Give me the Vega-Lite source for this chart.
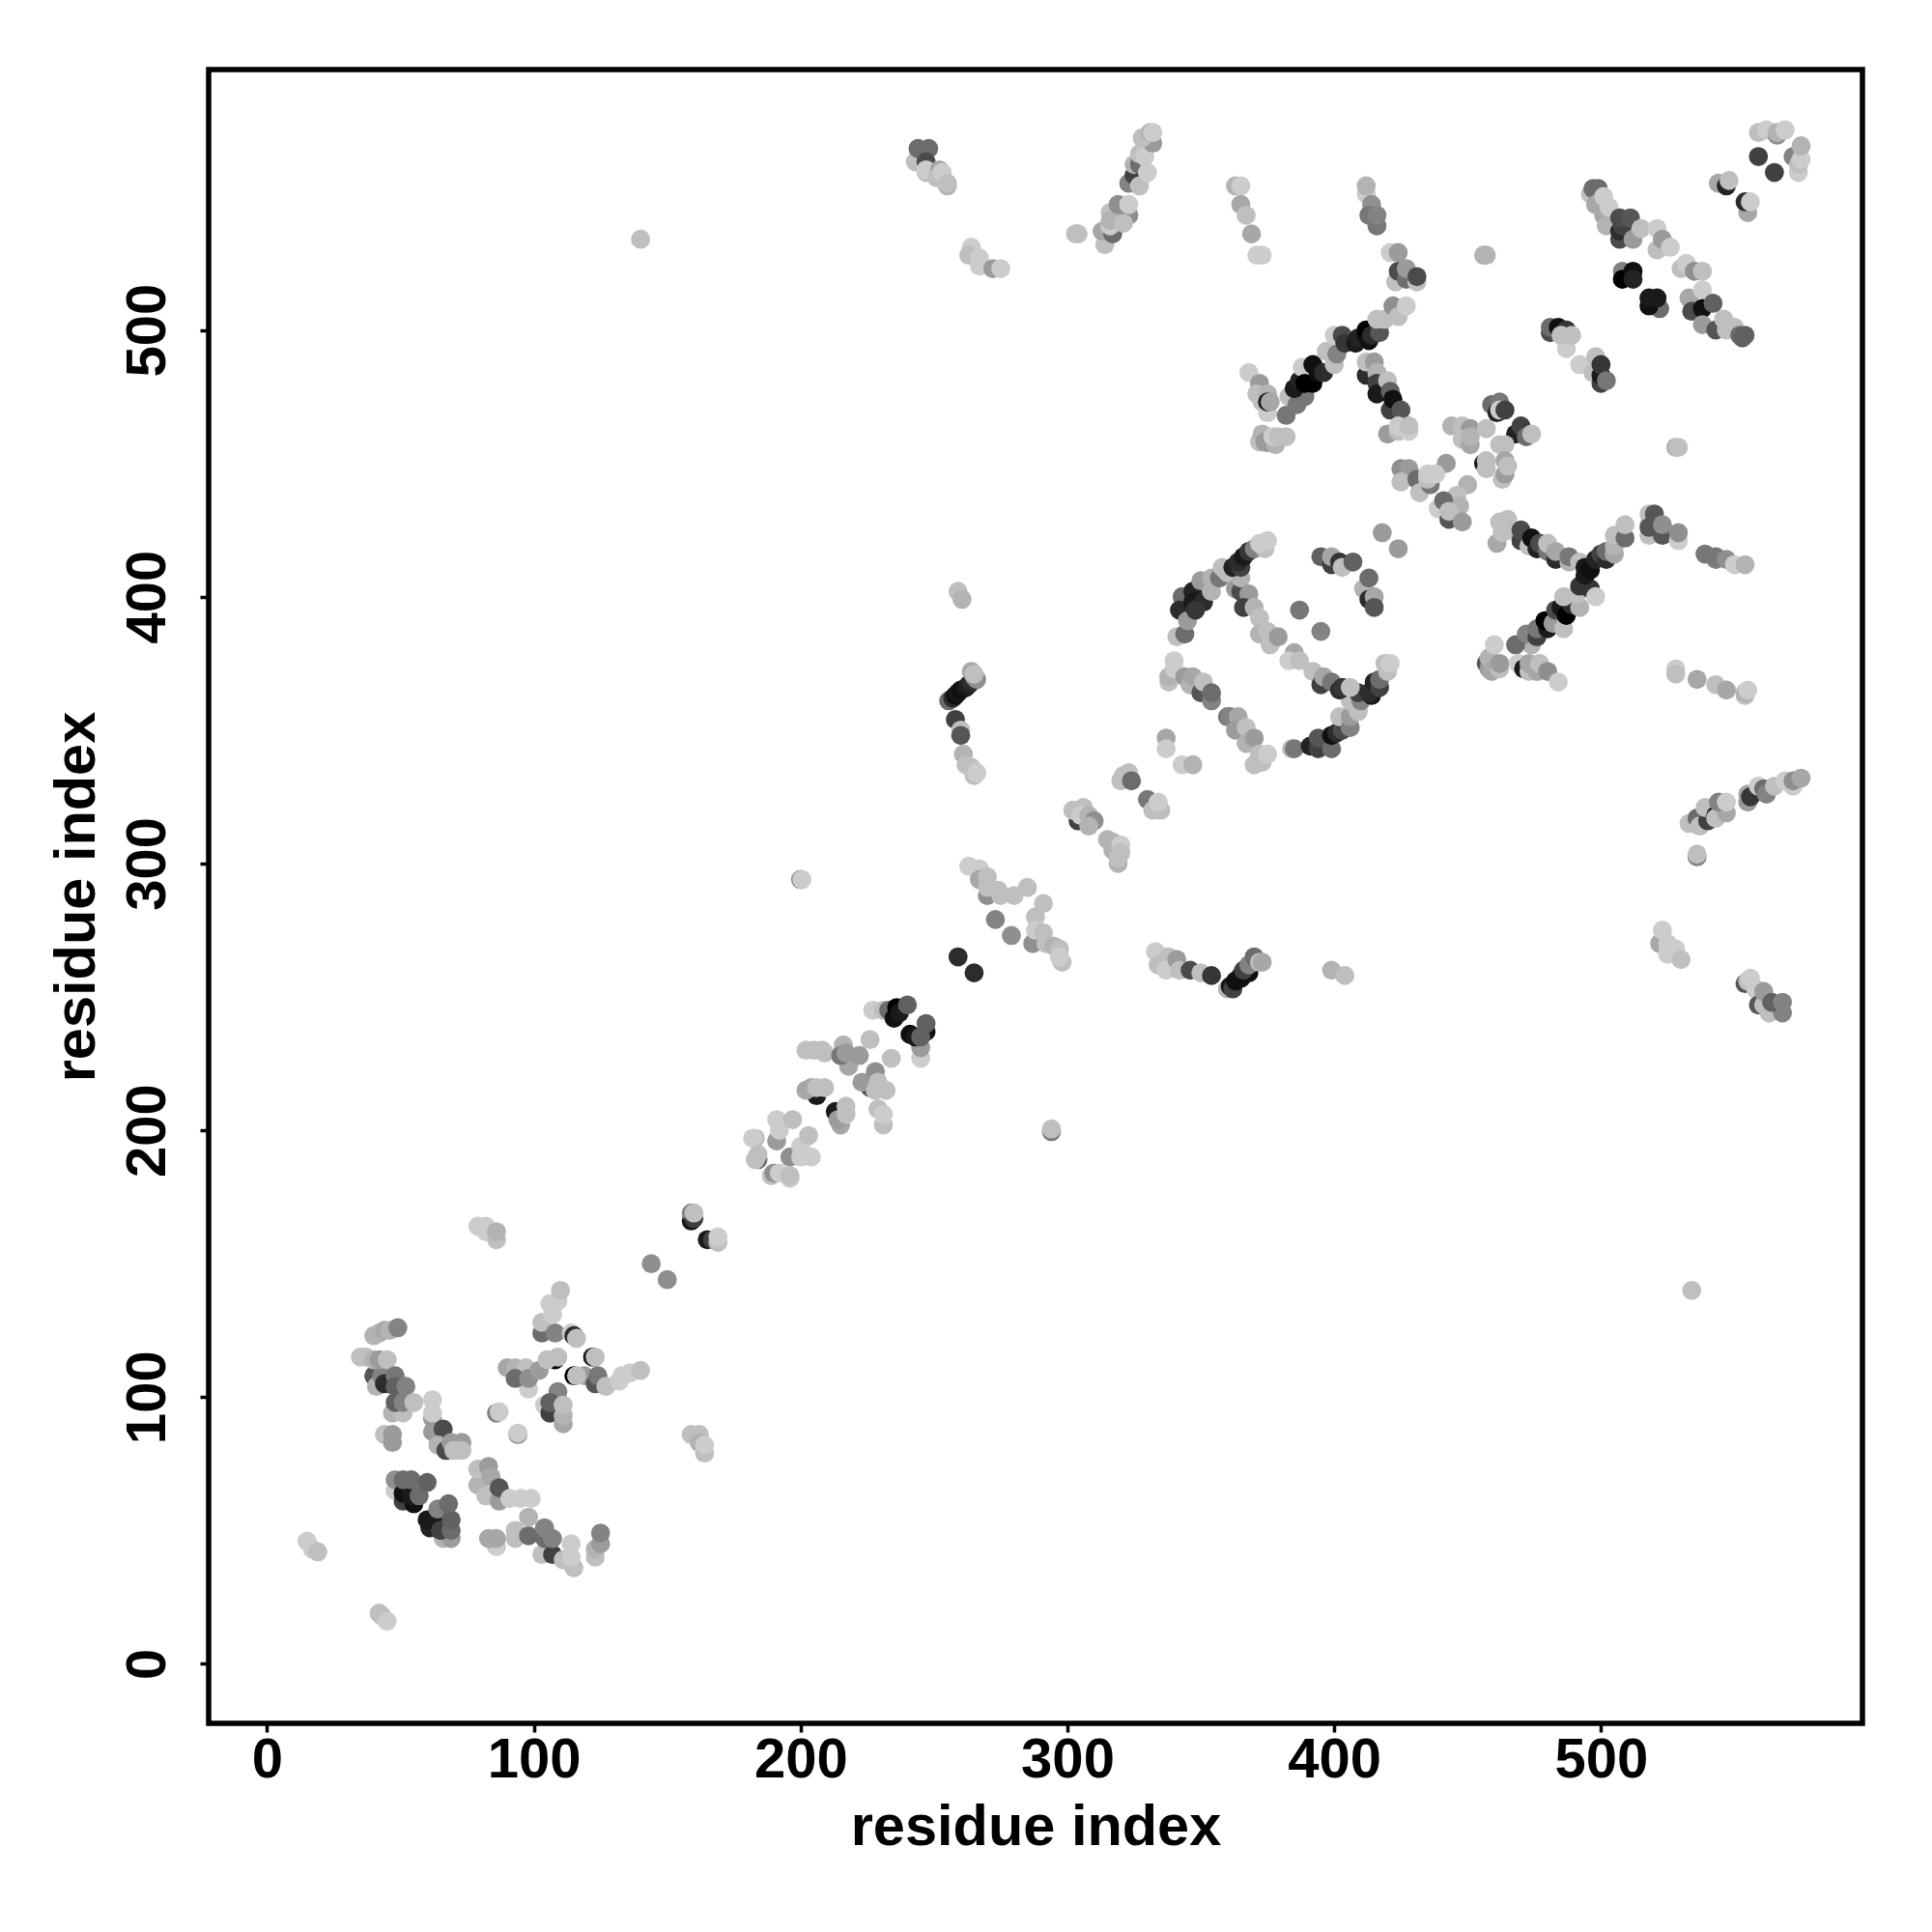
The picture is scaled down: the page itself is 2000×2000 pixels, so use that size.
{"$schema":"https://vega.github.io/schema/vega-lite/v6.json","width":1712,"height":1712,"autosize":{"type":"none"},"padding":{"left":216,"top":72,"right":72,"bottom":216},"background":"white","config":{"view":{"stroke":"black","strokeWidth":5.5},"axis":{"grid":false,"domain":false,"ticks":true,"tickColor":"black","tickWidth":3.5,"tickSize":9,"labelFont":"Liberation Sans","labelFontWeight":"bold","labelFontSize":58,"labelColor":"black","titleFont":"Liberation Sans","titleFontWeight":"bold","titleFontSize":59.5,"titleColor":"black"}},"data":{"values":[
{"x":15,"y":46,"p":0.9},{"x":17,"y":43,"p":0.9},{"x":19,"y":42,"p":0.85},{"x":42,"y":19,"p":0.85},{"x":43,"y":18,"p":0.85},{"x":45,"y":16,"p":0.9},
{"x":40,"y":123,"p":0.8},{"x":42,"y":124,"p":0.8},{"x":44,"y":125,"p":0.75},{"x":46,"y":125,"p":0.8},{"x":49,"y":126,"p":0.6},
{"x":40,"y":108,"p":0.4},{"x":41,"y":104,"p":0.8},{"x":43,"y":108,"p":0.6},{"x":44,"y":105,"p":0.2},{"x":35,"y":115,"p":0.85},{"x":37,"y":115,"p":0.85},{"x":40,"y":114,"p":0.8},{"x":42,"y":114,"p":0.7},{"x":45,"y":114,"p":0.85},{"x":48,"y":108,"p":0.55},{"x":48,"y":104,"p":0.45},{"x":52,"y":104,"p":0.6},
{"x":47,"y":94,"p":0.8},{"x":51,"y":94,"p":0.85},{"x":48,"y":98,"p":0.45},{"x":51,"y":98,"p":0.6},{"x":55,"y":98,"p":0.85},{"x":44,"y":86,"p":0.85},{"x":47,"y":86,"p":0.7},{"x":47,"y":83,"p":0.7},
{"x":62,"y":92,"p":0.7},{"x":62,"y":99,"p":0.9},{"x":62,"y":94,"p":0.9},{"x":62,"y":87,"p":0.7},{"x":66,"y":88,"p":0.35},{"x":64,"y":82,"p":0.8},{"x":67,"y":80,"p":0.35},{"x":69,"y":83,"p":0.7},{"x":73,"y":83,"p":0.7},{"x":70,"y":80,"p":0.85},{"x":73,"y":80,"p":0.85},
{"x":79,"y":67,"p":0.8},{"x":79,"y":73,"p":0.85},{"x":83,"y":74,"p":0.7},{"x":84,"y":70,"p":0.75},{"x":82,"y":63,"p":0.85},{"x":87,"y":61,"p":0.7},{"x":87,"y":66,"p":0.4},{"x":91,"y":62,"p":0.9},{"x":95,"y":62,"p":0.9},{"x":99,"y":62,"p":0.9},
{"x":93,"y":47,"p":0.85},{"x":93,"y":50,"p":0.85},{"x":98,"y":48,"p":0.5},{"x":98,"y":55,"p":0.8},{"x":103,"y":41,"p":0.85},{"x":107,"y":41,"p":0.3},{"x":104,"y":47,"p":0.5},{"x":104,"y":51,"p":0.6},{"x":107,"y":47,"p":0.6},{"x":111,"y":39,"p":0.85},{"x":115,"y":36,"p":0.85},{"x":114,"y":40,"p":0.9},{"x":114,"y":45,"p":0.9},{"x":123,"y":40,"p":0.85},{"x":123,"y":43,"p":0.8},{"x":125,"y":45,"p":0.7},{"x":125,"y":49,"p":0.6},
{"x":86,"y":44,"p":0.9},{"x":83,"y":47,"p":0.75},{"x":86,"y":47,"p":0.75},
{"x":48,"y":65,"p":0.9},{"x":48,"y":69,"p":0.65},{"x":51,"y":61,"p":0.3},{"x":55,"y":60,"p":0.05},{"x":51,"y":64,"p":0.05},{"x":54,"y":63,"p":0.1},{"x":51,"y":69,"p":0.5},{"x":54,"y":69,"p":0.5},{"x":57,"y":63,"p":0.5},{"x":60,"y":68,"p":0.45},
{"x":66,"y":47,"p":0.8},{"x":69,"y":47,"p":0.7},{"x":61,"y":51,"p":0.15},{"x":60,"y":54,"p":0.1},{"x":63,"y":54,"p":0.1},{"x":65,"y":50,"p":0.3},{"x":64,"y":58,"p":0.6},{"x":69,"y":50,"p":0.5},{"x":69,"y":54,"p":0.45},{"x":68,"y":60,"p":0.5},
{"x":103,"y":124,"p":0.5},{"x":103,"y":128,"p":0.85},{"x":107,"y":131,"p":0.9},{"x":106,"y":135,"p":0.9},{"x":109,"y":136,"p":0.9},{"x":110,"y":140,"p":0.85},{"x":108,"y":124,"p":0.6},{"x":114,"y":124,"p":0.9},{"x":115,"y":123,"p":0.2},{"x":116,"y":122,"p":0.85},
{"x":122,"y":115,"p":0.1},{"x":123,"y":115,"p":0.85},{"x":119,"y":108,"p":0.7},{"x":123,"y":105,"p":0.4},{"x":124,"y":108,"p":0.55},{"x":127,"y":104,"p":0.85},{"x":132,"y":106,"p":0.9},{"x":133,"y":108,"p":0.9},{"x":136,"y":109,"p":0.9},{"x":140,"y":110,"p":0.85},
{"x":108,"y":114,"p":0},{"x":109,"y":115,"p":0.85},{"x":115,"y":108,"p":0},{"x":116,"y":108,"p":0.85},
{"x":90,"y":111,"p":0.75},{"x":93,"y":111,"p":0.8},{"x":97,"y":111,"p":0.85},{"x":98,"y":103,"p":0.9},{"x":93,"y":107,"p":0.5},{"x":98,"y":107,"p":0.65},{"x":102,"y":110,"p":0.7},{"x":105,"y":114,"p":0.85},
{"x":109,"y":102,"p":0.6},{"x":104,"y":97,"p":0.9},{"x":106,"y":94,"p":0.3},{"x":106,"y":98,"p":0.45},{"x":111,"y":90,"p":0.75},{"x":111,"y":93,"p":0.8},{"x":111,"y":97,"p":0.85},
{"x":86,"y":94,"p":0.6},{"x":87,"y":94.5,"p":0.9},{"x":94,"y":86,"p":0.6},{"x":94,"y":86.5,"p":0.9},
{"x":79,"y":164,"p":0.9},{"x":82,"y":162,"p":0.9},{"x":82,"y":164,"p":0.9},{"x":86,"y":159,"p":0.85},{"x":86,"y":162,"p":0.8},
{"x":159,"y":86,"p":0.85},{"x":162,"y":86,"p":0.85},{"x":162,"y":83,"p":0.8},{"x":164,"y":79,"p":0.85},{"x":164,"y":82,"p":0.9},
{"x":144,"y":150,"p":0.65},{"x":150,"y":144,"p":0.65},{"x":159,"y":166,"p":0.1},{"x":159,"y":169,"p":0.6},{"x":160,"y":167,"p":0.3},{"x":160,"y":169,"p":0.85},{"x":165,"y":159,"p":0.1},{"x":167,"y":159,"p":0.3},{"x":169,"y":158,"p":0.85},{"x":169,"y":160,"p":0.9},{"x":140,"y":534,"p":0.85},
{"x":200,"y":294,"p":0.6},{"x":200.5,"y":294,"p":0.9},{"x":294,"y":199.5,"p":0.55},{"x":294,"y":200.5,"p":0.85},
{"x":183,"y":197,"p":0.85},{"x":182,"y":197,"p":0.9},{"x":184,"y":189,"p":0.5},{"x":183,"y":189,"p":0.85},{"x":184,"y":191,"p":0.85},
{"x":191,"y":196,"p":0.7},{"x":191,"y":204,"p":0.9},{"x":192,"y":200,"p":0.9},{"x":197,"y":204,"p":0.85},
{"x":189,"y":183,"p":0.85},{"x":190,"y":184,"p":0.65},{"x":192,"y":184,"p":0.9},{"x":196,"y":182,"p":0.9},{"x":196,"y":183,"p":0.85},
{"x":196,"y":190,"p":0.65},{"x":200,"y":194,"p":0.9},{"x":203,"y":198,"p":0.85},{"x":200,"y":190,"p":0.9},{"x":204,"y":190,"p":0.9},
{"x":202,"y":230,"p":0.85},{"x":205,"y":230,"p":0.85},{"x":208,"y":230,"p":0.85},{"x":209,"y":229,"p":0.85},
{"x":206,"y":213,"p":0.1},{"x":202,"y":215,"p":0.75},{"x":204,"y":216,"p":0.75},{"x":206,"y":216,"p":0.85},{"x":209,"y":216,"p":0.85},
{"x":218,"y":224,"p":0.75},{"x":216,"y":232,"p":0.8},{"x":215,"y":228,"p":0.55},{"x":217,"y":229,"p":0.7},{"x":222,"y":228,"p":0.7},{"x":226,"y":234,"p":0.85},{"x":234,"y":227,"p":0.85},
{"x":213,"y":207,"p":0.1},{"x":215,"y":202,"p":0.75},{"x":214,"y":204,"p":0.7},{"x":217,"y":206,"p":0.85},{"x":217,"y":209,"p":0.85},
{"x":226,"y":216,"p":0.4},{"x":223,"y":218,"p":0.7},{"x":228,"y":222,"p":0.65},{"x":228,"y":215,"p":0.85},{"x":229,"y":218,"p":0.85},{"x":232,"y":215,"p":0.85},
{"x":231,"y":202,"p":0.85},{"x":229,"y":208,"p":0.85},{"x":231,"y":206,"p":0.9},
{"x":227,"y":245,"p":0.9},{"x":231,"y":245,"p":0.85},{"x":233,"y":245,"p":0.5},{"x":235,"y":242,"p":0.05},{"x":236,"y":246,"p":0},{"x":237,"y":244,"p":0.1},{"x":240,"y":247,"p":0.45},
{"x":245,"y":227,"p":0.9},{"x":245,"y":231,"p":0.7},{"x":241,"y":236,"p":0.05},{"x":243,"y":235,"p":0.1},{"x":247,"y":237,"p":0.05},{"x":245,"y":235,"p":0.45},{"x":247,"y":240,"p":0.45},
{"x":259,"y":265,"p":0.2},{"x":265,"y":259,"p":0.2},{"x":273,"y":279,"p":0.6},{"x":279,"y":273,"p":0.65},
{"x":263,"y":299,"p":0.9},{"x":267,"y":298,"p":0.9},{"x":267,"y":294,"p":0.75},{"x":270,"y":288,"p":0.65},{"x":270,"y":295,"p":0.85},{"x":270,"y":291,"p":0.85},{"x":274,"y":290,"p":0.85},{"x":275,"y":288,"p":0.85},{"x":280,"y":288,"p":0.85},{"x":285,"y":291,"p":0.85},
{"x":291,"y":285,"p":0.85},{"x":288,"y":280,"p":0.85},{"x":287,"y":270,"p":0.65},{"x":288,"y":275,"p":0.9},{"x":291,"y":274,"p":0.85},{"x":292,"y":270,"p":0.85},{"x":295,"y":269,"p":0.8},{"x":298,"y":263,"p":0.85},{"x":297,"y":268,"p":0.85},{"x":297,"y":265,"p":0.9},
{"x":333,"y":267,"p":0.9},{"x":336,"y":265,"p":0.9},{"x":338,"y":265,"p":0.85},{"x":334,"y":262,"p":0.85},{"x":337,"y":260,"p":0.9},{"x":341,"y":264,"p":0.7},{"x":342,"y":260,"p":0.85},{"x":346,"y":260,"p":0.35},{"x":350,"y":259,"p":0.85},{"x":354,"y":258,"p":0.25},
{"x":360,"y":253,"p":0.8},{"x":361,"y":254,"p":0.1},{"x":362,"y":253,"p":0.3},{"x":363,"y":256,"p":0.05},{"x":365,"y":258,"p":0.1},{"x":365,"y":257,"p":0.05},{"x":368,"y":259,"p":0.05},{"x":366,"y":260,"p":0.3},{"x":368,"y":262,"p":0.6},{"x":370,"y":265,"p":0.5},{"x":372,"y":263,"p":0.85},{"x":373,"y":263,"p":0.75},
{"x":399,"y":260,"p":0.8},{"x":404,"y":258,"p":0.85},
{"x":522,"y":270,"p":0.75},{"x":523,"y":275,"p":0.9},{"x":525,"y":270,"p":0.9},{"x":525,"y":266,"p":0.9},{"x":527,"y":268,"p":0.9},{"x":528,"y":268,"p":0.9},{"x":530,"y":264,"p":0.85},
{"x":554,"y":255,"p":0.4},{"x":555,"y":256,"p":0.85},{"x":556,"y":257,"p":0.9},{"x":558,"y":253,"p":0.9},{"x":559,"y":247,"p":0.4},{"x":561,"y":247,"p":0.85},{"x":561,"y":252,"p":0.7},{"x":563,"y":244,"p":0.85},{"x":568,"y":244,"p":0.6},{"x":564,"y":248,"p":0.45},{"x":568,"y":248,"p":0.6},
{"x":304,"y":316,"p":0.3},{"x":302,"y":320,"p":0.85},{"x":306,"y":321,"p":0.85},{"x":305,"y":318,"p":0.9},{"x":308,"y":318,"p":0.8},{"x":310,"y":316,"p":0.65},{"x":308,"y":314,"p":0.8},
{"x":315,"y":309,"p":0.8},{"x":317,"y":308,"p":0.8},{"x":317,"y":305,"p":0.8},{"x":319,"y":300,"p":0.8},{"x":319,"y":302,"p":0.85},{"x":320,"y":307,"p":0.9},{"x":320,"y":304,"p":0.85},
{"x":320,"y":331,"p":0.85},{"x":321,"y":333,"p":0.85},{"x":323,"y":334,"p":0.85},{"x":324,"y":331,"p":0.5},{"x":330,"y":324,"p":0.55},{"x":332,"y":320,"p":0.85},{"x":335,"y":320,"p":0.85},{"x":334,"y":323,"p":0.9},
{"x":337,"y":347,"p":0.75},{"x":337,"y":343,"p":0.9},{"x":343,"y":337,"p":0.9},{"x":347,"y":337,"p":0.8},
{"x":338,"y":368,"p":0.85},{"x":338,"y":370,"p":0.8},{"x":340,"y":376,"p":0.9},{"x":340,"y":373,"p":0.9},{"x":344,"y":370,"p":0.7},{"x":346,"y":367,"p":0.8},{"x":347,"y":370,"p":0.75},{"x":350,"y":364,"p":0.4},{"x":351,"y":368,"p":0.85},{"x":354,"y":361,"p":0.6},{"x":354,"y":364,"p":0.5},
{"x":360,"y":355,"p":0.55},{"x":361,"y":355,"p":0.6},{"x":364,"y":355,"p":0.75},{"x":363,"y":350,"p":0.7},{"x":367,"y":351,"p":0.85},{"x":367,"y":345,"p":0.8},{"x":370,"y":347,"p":0.7},{"x":370,"y":337,"p":0.85},{"x":373,"y":338,"p":0.85},{"x":372,"y":341,"p":0.85},{"x":375,"y":341,"p":0.9},
{"x":384,"y":343,"p":0.85},{"x":385,"y":343,"p":0.55},{"x":391,"y":344,"p":0.15},{"x":394,"y":343,"p":0.3},{"x":394,"y":347,"p":0.4},{"x":399,"y":343,"p":0.5},{"x":399,"y":348,"p":0.05},{"x":401,"y":349,"p":0.2},{"x":403,"y":350,"p":0.35},{"x":402,"y":355,"p":0.85},{"x":406,"y":351,"p":0.6},{"x":406,"y":355,"p":0.7},{"x":409,"y":357,"p":0.85},{"x":406,"y":361,"p":0.85},{"x":410,"y":361,"p":0.6},{"x":409,"y":364,"p":0.3},{"x":414,"y":363,"p":0.1},{"x":413,"y":364,"p":0.2},{"x":415,"y":368,"p":0.15},{"x":417,"y":366,"p":0.3},{"x":417,"y":369,"p":0.5},{"x":419,"y":375,"p":0.85},{"x":420,"y":372,"p":0.85},{"x":421,"y":375,"p":0.9},
{"x":385,"y":379,"p":0.75},{"x":383,"y":376,"p":0.9},{"x":387,"y":376,"p":0.85},{"x":392,"y":372,"p":0.85},{"x":395,"y":367,"p":0.3},{"x":396,"y":370,"p":0.75},{"x":399,"y":368,"p":0.55},{"x":402,"y":365,"p":0.2},{"x":403,"y":366,"p":0.25},{"x":406,"y":366,"p":0.85},
{"x":387,"y":395,"p":0.55},{"x":395,"y":387,"p":0.6},
{"x":395,"y":415,"p":0.45},{"x":399,"y":412,"p":0.3},{"x":399,"y":415,"p":0.75},{"x":402,"y":413,"p":0.25},{"x":403,"y":411,"p":0.85},{"x":407,"y":413,"p":0.45},{"x":411,"y":403,"p":0.8},{"x":413,"y":407,"p":0.5},{"x":413,"y":399,"p":0.2},{"x":415,"y":400,"p":0.75},{"x":415,"y":396,"p":0.4},{"x":418,"y":424,"p":0.7},{"x":424,"y":418,"p":0.7},
{"x":341,"y":385,"p":0.85},{"x":344,"y":386,"p":0.5},{"x":343,"y":400,"p":0.5},{"x":342,"y":395,"p":0.2},{"x":345,"y":391,"p":0.7},{"x":347,"y":402,"p":0.15},{"x":347,"y":398,"p":0.1},{"x":351,"y":398,"p":0.2},{"x":348,"y":395,"p":0.25},{"x":350,"y":406,"p":0.7},{"x":354,"y":402,"p":0.8},{"x":354,"y":407,"p":0.8},{"x":357,"y":407,"p":0.55},{"x":358,"y":411,"p":0.85},{"x":360,"y":409,"p":0.85},
{"x":363,"y":403,"p":0.7},{"x":365,"y":402,"p":0.35},{"x":365,"y":407,"p":0.8},{"x":368,"y":401,"p":0.7},{"x":366,"y":396,"p":0.3},{"x":370,"y":396,"p":0.8},{"x":372,"y":392,"p":0.85},{"x":372,"y":386,"p":0.8},{"x":376,"y":382,"p":0.85},{"x":375,"y":387,"p":0.85},{"x":379,"y":385,"p":0.7},
{"x":362,"y":411,"p":0.15},{"x":365,"y":411,"p":0.3},{"x":364,"y":413,"p":0.2},{"x":366,"y":415,"p":0.1},{"x":368,"y":417,"p":0.25},{"x":370,"y":418,"p":0.6},{"x":374,"y":418,"p":0.85},{"x":372,"y":420,"p":0.9},{"x":375,"y":421,"p":0.9},
{"x":461,"y":420,"p":0.75},{"x":462,"y":428,"p":0.85},{"x":465,"y":429,"p":0.85},{"x":463,"y":424,"p":0.85},{"x":466,"y":425,"p":0.85},{"x":470,"y":421,"p":0.3},{"x":470,"y":425,"p":0.35},{"x":473,"y":419,"p":0.85},{"x":474,"y":422,"p":0.05},{"x":476,"y":418,"p":0.15},{"x":477,"y":420,"p":0.35},{"x":480,"y":417,"p":0.55},{"x":480,"y":420,"p":0.85},{"x":483,"y":414,"p":0.2},{"x":483,"y":417,"p":0.75},{"x":488,"y":413,"p":0.8},{"x":488,"y":415,"p":0.55},{"x":492,"y":413,"p":0.85},
{"x":474,"y":382,"p":0.8},{"x":468,"y":382,"p":0.5},{"x":472,"y":386,"p":0.6},{"x":476,"y":385,"p":0.3},{"x":476,"y":388,"p":0.55},{"x":480,"y":388,"p":0.1},{"x":479,"y":391,"p":0},{"x":482,"y":390,"p":0.7},{"x":486,"y":388,"p":0.85},{"x":483,"y":395,"p":0.35},{"x":485,"y":396,"p":0.1},{"x":487,"y":393,"p":0},{"x":489,"y":397,"p":0.2},{"x":486,"y":400,"p":0.85},{"x":492,"y":396,"p":0.8},{"x":491,"y":401,"p":0.85},
{"x":492,"y":404,"p":0.25},{"x":496,"y":403,"p":0.25},{"x":494,"y":408,"p":0.1},{"x":494,"y":411,"p":0.1},{"x":496,"y":410,"p":0.05},{"x":498,"y":414,"p":0.15},{"x":498,"y":400,"p":0.9},{"x":500,"y":416,"p":0.3},{"x":502,"y":414,"p":0.2},{"x":502,"y":417,"p":0.5},{"x":505,"y":416,"p":0.75},{"x":505,"y":419,"p":0.8},{"x":505,"y":423,"p":0.85},{"x":509,"y":422,"p":0.5},{"x":509,"y":427,"p":0.85},
{"x":518,"y":423,"p":0.85},{"x":518,"y":427,"p":0.85},{"x":518,"y":431,"p":0.85},{"x":518,"y":426,"p":0.4},{"x":520,"y":431,"p":0.4},{"x":523,"y":423,"p":0.4},{"x":523,"y":427,"p":0.65},{"x":529,"y":421,"p":0.9},{"x":529,"y":424,"p":0.65},
{"x":539,"y":416,"p":0.55},{"x":543,"y":414,"p":0.6},{"x":543,"y":415,"p":0.55},{"x":547,"y":414,"p":0.65},{"x":550,"y":412,"p":0.9},{"x":554,"y":412,"p":0.8},
{"x":457,"y":375,"p":0.4},{"x":458,"y":373,"p":0.7},{"x":458,"y":377,"p":0.8},{"x":459,"y":372,"p":0.75},{"x":460,"y":382,"p":0.9},{"x":462,"y":373,"p":0.85},{"x":462,"y":375,"p":0.7},
{"x":469,"y":375,"p":0.9},{"x":471,"y":373,"p":0.1},{"x":473,"y":372,"p":0.85},{"x":473,"y":375,"p":0.75},{"x":476,"y":372,"p":0.75},{"x":477,"y":375,"p":0.85},{"x":480,"y":372,"p":0.65},{"x":484,"y":368,"p":0.9},
{"x":528,"y":373,"p":0.9},{"x":528,"y":371,"p":0.85},{"x":536,"y":369,"p":0.75},{"x":543,"y":367,"p":0.85},{"x":547,"y":365,"p":0.75},{"x":554,"y":363,"p":0.85},{"x":554,"y":364,"p":0.8},{"x":555,"y":365,"p":0.9},
{"x":533,"y":315,"p":0.85},{"x":536,"y":317,"p":0.5},{"x":537,"y":314,"p":0.85},{"x":540,"y":316,"p":0.3},{"x":539,"y":321,"p":0.85},{"x":543,"y":318,"p":0.1},{"x":543,"y":317,"p":0.85},{"x":547,"y":319,"p":0.75},{"x":544,"y":323,"p":0.6},{"x":547,"y":323,"p":0.9},
{"x":555,"y":323,"p":0.7},{"x":555,"y":326,"p":0.75},{"x":556,"y":325,"p":0.25},{"x":559,"y":329,"p":0.9},{"x":561,"y":328,"p":0.5},{"x":562,"y":326,"p":0.6},{"x":565,"y":329,"p":0.85},{"x":569,"y":331,"p":0.9},{"x":572,"y":329,"p":0.9},{"x":572,"y":331,"p":0.65},{"x":575,"y":332,"p":0.75},
{"x":536,"y":302.5,"p":0.6},{"x":536,"y":303.5,"p":0.85},{"x":534,"y":140,"p":0.85},{"x":528,"y":456,"p":0.8},{"x":529,"y":456,"p":0.85},
{"x":303,"y":536,"p":0.85},{"x":304,"y":536,"p":0.85},{"x":314,"y":532,"p":0.85},{"x":313,"y":537,"p":0.75},{"x":317,"y":536,"p":0.5},{"x":316,"y":539,"p":0.9},{"x":317,"y":544,"p":0.1},{"x":316,"y":544,"p":0.85},{"x":316,"y":541,"p":0.8},{"x":319,"y":547,"p":0.65},{"x":323,"y":543,"p":0.65},{"x":321,"y":540,"p":0.85},{"x":323,"y":547,"p":0.9},
{"x":323,"y":555,"p":0.6},{"x":325,"y":558,"p":0.3},{"x":325,"y":562,"p":0.8},{"x":327,"y":554,"p":0.85},{"x":327,"y":562,"p":0.5},{"x":330,"y":559,"p":0.9},{"x":327,"y":566,"p":0.85},{"x":329,"y":565,"p":0.9},{"x":332,"y":570,"p":0.7},{"x":328,"y":572,"p":0.85},{"x":331,"y":574,"p":0.8},{"x":332,"y":574,"p":0.9},
{"x":363,"y":554,"p":0.8},{"x":365,"y":554,"p":0.9},{"x":365,"y":547,"p":0.75},{"x":367,"y":543,"p":0.85},{"x":369,"y":536,"p":0.75},{"x":371,"y":528,"p":0.9},{"x":373,"y":528,"p":0.9},
{"x":412,"y":551,"p":0.9},{"x":412,"y":554,"p":0.8},{"x":414,"y":547,"p":0.65},{"x":413,"y":543,"p":0.55},{"x":416,"y":539,"p":0.55},{"x":416,"y":543,"p":0.6},
{"x":421,"y":529,"p":0.9},{"x":424,"y":529,"p":0.7},{"x":423,"y":518,"p":0.85},{"x":424,"y":522,"p":0.35},{"x":427,"y":519,"p":0.5},{"x":427,"y":523,"p":0.7},{"x":431,"y":518,"p":0.85},{"x":431,"y":520,"p":0.35},{"x":456,"y":528,"p":0.8},{"x":457,"y":528,"p":0.8},
{"x":368,"y":484,"p":0.9},{"x":372,"y":480,"p":0.7},{"x":371,"y":476,"p":0.85},{"x":373,"y":473,"p":0.85},{"x":375,"y":469,"p":0.9},{"x":375,"y":476,"p":0.8},{"x":375,"y":473,"p":0.1},{"x":376,"y":473,"p":0.75},
{"x":375,"y":458,"p":0.2},{"x":372,"y":458,"p":0.85},{"x":373,"y":461,"p":0.8},{"x":374,"y":458,"p":0.7},{"x":378,"y":457,"p":0.8},{"x":377,"y":460,"p":0.9},{"x":379,"y":460,"p":0.85},{"x":382,"y":460,"p":0.85},
{"x":382,"y":468,"p":0.55},{"x":383,"y":475,"p":0.85},{"x":386,"y":472,"p":0.55},{"x":389,"y":475,"p":0.55},{"x":385,"y":478,"p":0.1},{"x":387,"y":481,"p":0.15},{"x":388,"y":486,"p":0.9},{"x":389,"y":480,"p":0},{"x":392,"y":480,"p":0},{"x":392,"y":487,"p":0.05},{"x":394,"y":484,"p":0.05},{"x":396,"y":484,"p":0.2},{"x":400,"y":487,"p":0.85},{"x":397,"y":492,"p":0.85},{"x":401,"y":491,"p":0.6},{"x":400,"y":498,"p":0.9},{"x":403,"y":498,"p":0.35},{"x":404,"y":495,"p":0.25},{"x":408,"y":495,"p":0.1},{"x":409,"y":497,"p":0.15},{"x":412,"y":498,"p":0.05},{"x":412,"y":500,"p":0},{"x":413,"y":496,"p":0.05},{"x":414,"y":498,"p":0.2},{"x":417,"y":499,"p":0.4},{"x":416,"y":504,"p":0.85},{"x":419,"y":504,"p":0.85},{"x":422,"y":509,"p":0.65},{"x":424,"y":505,"p":0.85},{"x":427,"y":509,"p":0.9},
{"x":412,"y":483,"p":0.2},{"x":412,"y":488,"p":0.85},{"x":415,"y":488,"p":0.7},{"x":416,"y":484,"p":0.8},{"x":416,"y":480,"p":0.3},{"x":416,"y":476,"p":0.1},{"x":420,"y":481,"p":0.85},{"x":421,"y":477,"p":0.45},{"x":421,"y":470,"p":0.3},{"x":422,"y":474,"p":0.05},{"x":425,"y":470,"p":0.4},{"x":420,"y":461,"p":0.7},{"x":424,"y":462,"p":0.85},{"x":424,"y":464,"p":0.9},{"x":428,"y":462,"p":0.9},{"x":428,"y":464,"p":0.85},
{"x":444,"y":464,"p":0.8},{"x":448,"y":464,"p":0.85},{"x":451,"y":463,"p":0.7},{"x":448,"y":459,"p":0.85},{"x":451,"y":457,"p":0.75},{"x":451,"y":460,"p":0.8},{"x":457,"y":463,"p":0.85},
{"x":442,"y":450,"p":0.7},{"x":425,"y":448,"p":0.65},{"x":428,"y":448,"p":0.7},{"x":425,"y":443,"p":0.85},{"x":431,"y":444,"p":0.5},{"x":432,"y":439,"p":0.85},{"x":436,"y":442,"p":0.55},{"x":435,"y":444,"p":0.85},{"x":435,"y":446,"p":0.9},{"x":438,"y":446,"p":0.9},
{"x":450,"y":442,"p":0.8},{"x":446,"y":438,"p":0.85},{"x":447,"y":434,"p":0.8},{"x":439,"y":433,"p":0.9},{"x":441,"y":436,"p":0.5},{"x":443,"y":429,"p":0.4},{"x":443,"y":432,"p":0.85},{"x":448,"y":428,"p":0.7},
{"x":459,"y":472,"p":0.5},{"x":462,"y":473,"p":0.55},{"x":461,"y":469,"p":0.15},{"x":462,"y":470,"p":0.9},{"x":464,"y":470,"p":0.3},{"x":468,"y":461,"p":0.15},{"x":470,"y":464,"p":0.3},{"x":472,"y":460,"p":0.5},{"x":474,"y":461,"p":0.85},
{"x":456,"y":450,"p":0.1},{"x":464,"y":457,"p":0.85},{"x":462,"y":457,"p":0.85},{"x":457,"y":451,"p":0.85},{"x":457,"y":448,"p":0.85},{"x":463,"y":444,"p":0.85},{"x":464,"y":446,"p":0.7},{"x":464,"y":451,"p":0.75},{"x":465,"y":449,"p":0.85},
{"x":501,"y":543,"p":0.75},{"x":496,"y":551,"p":0.85},{"x":497,"y":553,"p":0.5},{"x":499,"y":553,"p":0.5},{"x":498,"y":547,"p":0.75},{"x":501,"y":550,"p":0.9},{"x":503,"y":546,"p":0.9},{"x":502,"y":539,"p":0.8},{"x":507,"y":534,"p":0.35},{"x":507,"y":537,"p":0.2},{"x":508,"y":539,"p":0.3},{"x":507,"y":542,"p":0.35},{"x":511,"y":542,"p":0.4},{"x":512,"y":534,"p":0.7},{"x":515,"y":538,"p":0.85},
{"x":521,"y":530,"p":0.85},{"x":521,"y":538,"p":0.9},{"x":523,"y":534,"p":0.7},{"x":526,"y":531,"p":0.9},{"x":530,"y":523,"p":0.85},{"x":532,"y":525,"p":0.9},{"x":535,"y":522,"p":0.65},{"x":538,"y":522,"p":0.85},
{"x":533,"y":512,"p":0.75},{"x":534,"y":507,"p":0.35},{"x":538,"y":515,"p":0.9},{"x":538,"y":508,"p":0.05},{"x":542,"y":510,"p":0.45},{"x":538,"y":502,"p":0.7},{"x":543,"y":500,"p":0.4},{"x":546,"y":504,"p":0.85},{"x":547,"y":500,"p":0.85},{"x":550,"y":501,"p":0.85},{"x":552,"y":498,"p":0.5},{"x":553,"y":497,"p":0.45},{"x":554,"y":498,"p":0.45},
{"x":508,"y":522,"p":0.6},{"x":508,"y":519,"p":0},{"x":512,"y":522,"p":0.05},{"x":512,"y":519,"p":0.15},{"x":522,"y":508,"p":0.5},{"x":518,"y":509,"p":0.05},{"x":518,"y":512,"p":0.1},{"x":521,"y":512,"p":0.1},
{"x":481,"y":499,"p":0.35},{"x":481,"y":501,"p":0.5},{"x":484,"y":501,"p":0.05},{"x":487,"y":493,"p":0.9},{"x":487,"y":500,"p":0.25},{"x":485,"y":498,"p":0.85},{"x":489,"y":498,"p":0.85},
{"x":492,"y":487,"p":0.9},{"x":497,"y":484,"p":0.85},{"x":498,"y":490,"p":0.85},{"x":500,"y":480,"p":0.3},{"x":500,"y":483,"p":0.1},{"x":500,"y":487,"p":0.25},{"x":502,"y":481,"p":0.55},
{"x":559,"y":565,"p":0.3},{"x":565,"y":559,"p":0.3},{"x":559,"y":574,"p":0.85},{"x":562,"y":575,"p":0.9},{"x":566,"y":573,"p":0.65},{"x":566,"y":574,"p":0.8},{"x":569,"y":575,"p":0.9},
{"x":572,"y":565,"p":0.6},{"x":574,"y":559,"p":0.9},{"x":574,"y":562,"p":0.85},{"x":575,"y":564,"p":0.9},{"x":575,"y":569,"p":0.8},
{"x":544,"y":555,"p":0.75},{"x":547,"y":554,"p":0.15},{"x":548,"y":556,"p":0.85},{"x":555,"y":544,"p":0.75},{"x":554,"y":548,"p":0.2},{"x":556,"y":548,"p":0.9},
{"x":243,"y":563,"p":0.85},{"x":244,"y":568,"p":0.5},{"x":248,"y":568,"p":0.5},{"x":247,"y":563,"p":0.35},{"x":247,"y":559,"p":0.85},{"x":247,"y":560,"p":0.9},{"x":252,"y":560,"p":0.75},{"x":251,"y":557,"p":0.85},{"x":253,"y":559,"p":0.9},{"x":255,"y":554,"p":0.8},{"x":255,"y":555,"p":0.85},
{"x":264,"y":531,"p":0.9},{"x":263,"y":528,"p":0.85},{"x":267,"y":527,"p":0.9},{"x":267,"y":524,"p":0.9},{"x":272,"y":523,"p":0.7},{"x":275,"y":523,"p":0.9},
{"x":259,"y":402,"p":0.85},{"x":260.5,"y":399,"p":0.8},
{"x":255.5,"y":361,"p":0.5},{"x":257,"y":362,"p":0.2},{"x":258,"y":363,"p":0.05},{"x":259,"y":364,"p":0.1},{"x":260,"y":365,"p":0.05},{"x":262,"y":366,"p":0.1},{"x":263,"y":367,"p":0.15},{"x":264,"y":368,"p":0.2},{"x":265,"y":370,"p":0.6},{"x":264,"y":372,"p":0.75},{"x":266,"y":369,"p":0.65},{"x":265,"y":371,"p":0.85},
{"x":258,"y":354,"p":0.3},{"x":260,"y":350,"p":0.85},{"x":260,"y":348,"p":0.4},{"x":261,"y":341,"p":0.8},{"x":262,"y":337,"p":0.85},{"x":264,"y":336,"p":0.85},{"x":265,"y":333,"p":0.85},{"x":266,"y":334,"p":0.9}
]},"mark":{"type":"point","shape":"circle","filled":true,"opacity":1,"strokeWidth":0,"size":390},"encoding":{"x":{"field":"x","type":"quantitative","scale":{"domain":[-21.9,598],"nice":false,"zero":false},"axis":{"title":"residue index","values":[0,100,200,300,400,500],"labelAngle":0,"labelAlign":"center","labelBaseline":"alphabetic","labelPadding":46,"titleAnchor":"middle","titleBaseline":"alphabetic","titleY":125}},"y":{"field":"y","type":"quantitative","scale":{"domain":[-22.3,597.6],"nice":false,"zero":false},"axis":{"title":"residue index","values":[0,100,200,300,400,500],"labelAngle":-90,"labelAlign":"center","labelBaseline":"alphabetic","labelPadding":37,"titleAnchor":"middle","titleBaseline":"alphabetic","titleX":-119}},"color":{"field":"p","type":"quantitative","scale":{"domain":[0,0.9],"range":["#000000","#cccccc"]},"legend":null}}}
